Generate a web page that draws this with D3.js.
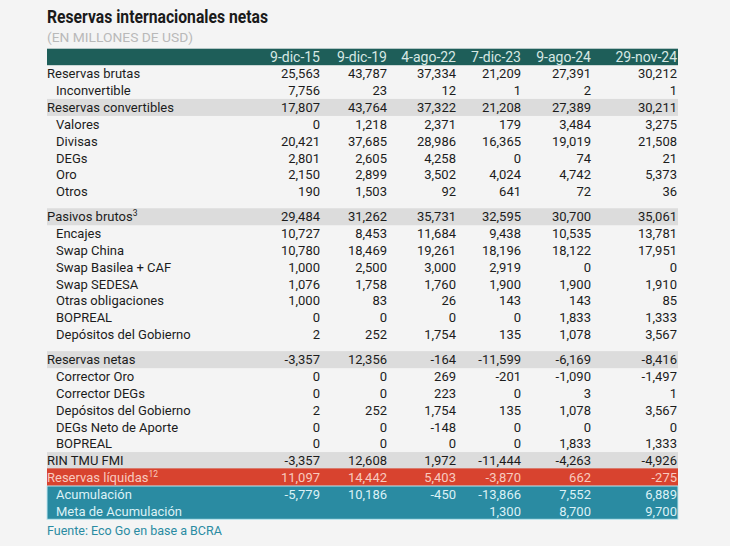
<!DOCTYPE html>
<html><head><meta charset="utf-8">
<script src="https://cdn.jsdelivr.net/npm/d3@7"></script>
<style>
html,body{margin:0;padding:0;background:#f4f4f4;}
svg{display:block;font-family:Roboto, "Noto Sans", sans-serif;}
</style></head>
<body>
<svg id="chart" width="730" height="546"></svg>
<script>
// ---- data ----
const columns = ["9-dic-15","9-dic-19","4-ago-22","7-dic-23","9-ago-24","29-nov-24"];
const rowLabels = ["Reservas brutas","Inconvertible","Reservas convertibles","Valores","Divisas","DEGs","Oro","Otros",
  "Pasivos brutos","Encajes","Swap China","Swap Basilea + CAF","Swap SEDESA","Otras obligaciones","BOPREAL","Depósitos del Gobierno",
  "Reservas netas","Corrector Oro","Corrector DEGs","Depósitos del Gobierno","DEGs Neto de Aporte","BOPREAL",
  "RIN TMU FMI","Reservas líquidas","Acumulación","Meta de Acumulación"];
const rowSuperscripts = ["","","","","","","","","3","","","","","","","","","","","","","","","12","",""];
const dic15 = [25563,7756,17807,0,20421,2801,2150,190,29484,10727,10780,1000,1076,1000,0,2,-3357,0,0,2,0,0,-3357,11097,-5779,null];
const dic19 = [43787,23,43764,1218,37685,2605,2899,1503,31262,8453,18469,2500,1758,83,0,252,12356,0,0,252,0,0,12608,14442,10186,null];
const ago22 = [37334,12,37322,2371,28986,4258,3502,92,35731,11684,19261,3000,1760,26,0,1754,-164,269,223,1754,-148,0,1972,5403,-450,null];
const dic23 = [21209,1,21208,179,16365,0,4024,641,32595,9438,18196,2919,1900,143,0,135,-11599,-201,0,135,0,0,-11444,-3870,-13866,1300];
const ago24 = [27391,2,27389,3484,19019,74,4742,72,30700,10535,18122,0,1900,143,1833,1078,-6169,-1090,3,1078,0,1833,-4263,662,7552,8700];
const nov24 = [30212,1,30211,3275,21508,21,5373,36,35061,13781,17951,0,1910,85,1333,3567,-8416,-1497,1,3567,0,1333,-4926,-275,6889,9700];
const seriesValues = [dic15,dic19,ago22,dic23,ago24,nov24];

// ---- layout / style ----
const subRows = new Set([1,3,4,5,6,7,9,10,11,12,13,14,15,17,18,19,20,21,24,25]);
const greyRows = new Set([2,8,16,22]);
const gapBefore = new Set([8,16]);
const redRow = 23, blueRows = [24,25];
const L = 47, R = 678, rowH = 17, fs = 13;

const svg = d3.select("#chart");
const fmt = d3.formatLocale({decimal:".",thousands:",",grouping:[3],currency:["$",""],minus:"-"}).format(",");

// slot positions: header = 0, rows follow, with half-row gaps
let slot = 0; const slots = [];
rowLabels.forEach((d,i)=>{ slot += gapBefore.has(i) ? 1.5 : 1; slots.push(slot); });
const y = d3.scaleLinear().domain([0, slots[slots.length-1]]).range([57, 511]);
const x = d3.scaleOrdinal().domain(columns).range([320,387,456,521,591,677]);

// title
svg.append("text").attr("x",L).attr("y",23).attr("font-size",17.5).attr("font-weight",700)
  .attr("fill","#1a1a1a").attr("textLength",221).attr("lengthAdjust","spacingAndGlyphs")
  .text("Reservas internacionales netas");
svg.append("text").attr("x",L).attr("y",42).attr("font-size",12).attr("fill","#b9b9b9")
  .attr("textLength",146).attr("lengthAdjust","spacingAndGlyphs").text("(EN MILLONES DE USD)");

// header band
svg.append("rect").attr("x",L).attr("y",y(0)-8.3).attr("width",R-L).attr("height",16.5).attr("fill","#1e5e59");
svg.selectAll("text.hdr").data(columns).join("text").attr("class","hdr")
  .attr("x",d=>x(d)).attr("y",y(0)).attr("dy","0.36em").attr("text-anchor","end")
  .attr("font-size",14).attr("fill","#d7e8e4").text(d=>d);

// bands
const bands = svg.append("g");
rowLabels.forEach((d,i)=>{
  if (greyRows.has(i)) bands.append("rect").attr("x",L).attr("y",y(slots[i])-rowH/2).attr("width",R-L).attr("height",rowH).attr("fill","#dcdcdc");
});
bands.append("rect").attr("x",L).attr("y",y(slots[redRow])-9).attr("width",R-L).attr("height",18).attr("fill","#d8432f");
bands.append("rect").attr("x",L).attr("y",y(slots[blueRows[0]])-8.2).attr("width",R-L)
  .attr("height",y(slots[blueRows[1]])-y(slots[blueRows[0]])+16.5).attr("fill","#2a8ba2")
  .attr("stroke","#bfe6ef").attr("stroke-width",1);

function textColor(i){ return i===redRow ? "#f9cabf" : (blueRows.includes(i) ? "#dcf1f6" : "#1c1c1c"); }

// labels
const lab = svg.selectAll("text.lab").data(rowLabels.map((d,i)=>({label:d, sup:rowSuperscripts[i], i})))
  .join("text").attr("class","lab")
  .attr("x",d=>subRows.has(d.i)?56:L).attr("y",d=>y(slots[d.i])).attr("dy","0.36em")
  .attr("font-size",fs).attr("fill",d=>textColor(d.i));
lab.append("tspan").text(d=>d.label);
lab.filter(d=>d.sup).append("tspan").attr("font-size",8.5).attr("dy","-0.6em").text(d=>d.sup);

// values
columns.forEach((c,ci)=>{
  svg.append("g").selectAll("text")
    .data(seriesValues[ci].map((v,i)=>({v,i})).filter(d=>d.v!==null))
    .join("text")
    .attr("x",x(c)).attr("y",d=>y(slots[d.i])).attr("dy","0.36em").attr("text-anchor","end")
    .attr("font-size",fs).attr("fill",d=>textColor(d.i)).text(d=>fmt(d.v));
});

// source
svg.append("text").attr("x",L).attr("y",535).attr("font-size",12.5).attr("fill","#2a8ba2")
  .text("Fuente: Eco Go en base a BCRA");
</script>
</body></html>
